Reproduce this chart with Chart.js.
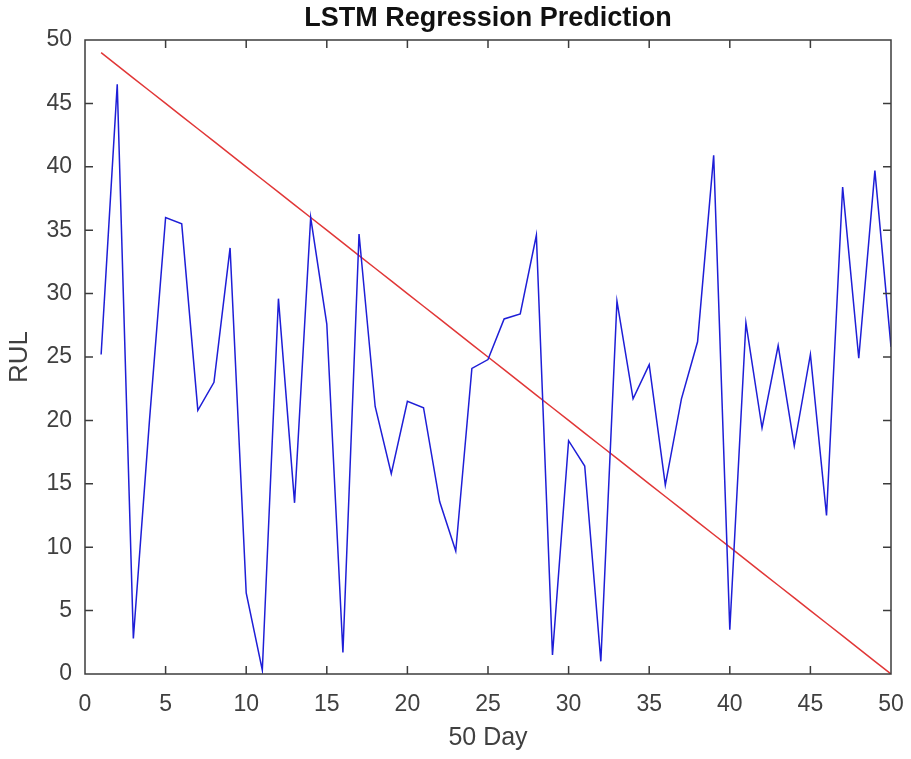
<!DOCTYPE html>
<html>
<head>
<meta charset="utf-8">
<title>LSTM Regression Prediction</title>
<script src="https://cdn.jsdelivr.net/npm/chart.js@4"></script>
<style>
  html, body { margin: 0; padding: 0; background: #ffffff; }
  #grafico { display: block; }
</style>
</head>
<body>
<canvas id="grafico" width="911" height="759"></canvas>
<script>
// Dias (eixo x) e valores
const dias = [
  1, 2, 3, 4, 5, 6, 7, 8, 9, 10,
  11, 12, 13, 14, 15, 16, 17, 18, 19, 20,
  21, 22, 23, 24, 25, 26, 27, 28, 29, 30,
  31, 32, 33, 34, 35, 36, 37, 38, 39, 40,
  41, 42, 43, 44, 45, 46, 47, 48, 49, 50,
];

// Previsão da LSTM (linha azul)
const previsao = [
  25.2, 46.5, 2.8, 20.0, 36.0, 35.5, 20.8, 23.0, 33.6, 6.4,
  0.3, 29.6, 13.5, 36.0, 27.6, 1.7, 34.7, 21.1, 15.8, 21.5,
  21.0, 13.6, 9.7, 24.1, 24.8, 28.0, 28.4, 34.6, 1.5, 18.4,
  16.4, 1.0, 29.4, 21.7, 24.4, 14.9, 21.7, 26.2, 40.9, 3.5,
  27.7, 19.4, 25.9, 18.0, 25.2, 12.5, 38.4, 24.9, 39.7, 25.8,
];

// RUL real (linha vermelha)
const rulReal = [
  49, 48, 47, 46, 45, 44, 43, 42, 41, 40,
  39, 38, 37, 36, 35, 34, 33, 32, 31, 30,
  29, 28, 27, 26, 25, 24, 23, 22, 21, 20,
  19, 18, 17, 16, 15, 14, 13, 12, 11, 10,
  9, 8, 7, 6, 5, 4, 3, 2, 1, 0,
];

const TICKS_X = [0, 5, 10, 15, 20, 25, 30, 35, 40, 45, 50];
const TICKS_Y = [0, 5, 10, 15, 20, 25, 30, 35, 40, 45, 50];

const TITULO    = "LSTM Regression Prediction";
const COR_EIXO  = "#3c3c3c";
const COR_TEXTO = "#404040";
const FONTE     = "'Liberation Sans', Arial, Helvetica, sans-serif";

// Caixa do gráfico com marcas para dentro (estilo MATLAB) e título centrado na área
const pluginCaixa = {
  id: "caixa",
  afterDatasetsDraw(chart) {
    const { ctx, chartArea: { left, right, top, bottom }, scales: { x, y } } = chart;
    const tam = 8;
    ctx.save();
    ctx.strokeStyle = COR_EIXO;
    ctx.lineWidth   = 1.5;
    ctx.beginPath();
    x.ticks.forEach(t => {
      if (t.value === x.min || t.value === x.max) return;
      const px = x.getPixelForValue(t.value);
      ctx.moveTo(px, bottom); ctx.lineTo(px, bottom - tam);
      ctx.moveTo(px, top);    ctx.lineTo(px, top + tam);
    });
    y.ticks.forEach(t => {
      if (t.value === y.min || t.value === y.max) return;
      const py = y.getPixelForValue(t.value);
      ctx.moveTo(left, py);  ctx.lineTo(left + tam, py);
      ctx.moveTo(right, py); ctx.lineTo(right - tam, py);
    });
    ctx.stroke();
    ctx.strokeRect(left, top, right - left, bottom - top);

    // Título
    ctx.fillStyle    = "#111111";
    ctx.font         = "bold 27px " + FONTE;
    ctx.textAlign    = "center";
    ctx.textBaseline = "middle";
    ctx.fillText(TITULO, (left + right) / 2, 19);
    ctx.restore();
  },
};

new Chart(document.getElementById("grafico"), {
  type: "line",
  data: {
    datasets: [
      {
        label:       "Previsão",
        data:        dias.map((d, i) => ({ x: d, y: previsao[i] })),
        borderColor: "rgb(30, 30, 215)",
        borderWidth: 1.5,
        pointRadius: 0,
        tension:     0,
      },
      {
        label:       "RUL",
        data:        dias.map((d, i) => ({ x: d, y: rulReal[i] })),
        borderColor: "rgb(225, 55, 55)",
        borderWidth: 1.5,
        pointRadius: 0,
        tension:     0,
      },
    ],
  },
  options: {
    responsive: false,
    animation:  false,
    layout: { padding: { left: 0, right: 20, top: 40, bottom: 0 } },
    plugins: {
      legend:  { display: false },
      tooltip: { enabled: false },
      title:   { display: false },
    },
    scales: {
      x: {
        type: "linear",
        min:  0,
        max:  50,
        afterFit: s => { s.height = 85; s.paddingLeft = 0; s.paddingRight = 0; },
        afterBuildTicks: s => { s.ticks = TICKS_X.map(v => ({ value: v })); },
        ticks: {
          color:       COR_TEXTO,
          font:        { family: FONTE, size: 23 },
          padding:     17,
          maxRotation: 0,
        },
        grid:   { display: false, drawTicks: false },
        border: { display: false },
        title: {
          display: true,
          text:    "50 Day",
          color:   COR_TEXTO,
          font:    { family: FONTE, size: 25, lineHeight: 1.2 },
          padding: { top: 6, bottom: 6 },
        },
      },
      y: {
        type: "linear",
        min:  0,
        max:  50,
        afterFit: s => { s.width = 85; s.paddingTop = 0; s.paddingBottom = 0; },
        afterBuildTicks: s => { s.ticks = TICKS_Y.map(v => ({ value: v })); },
        ticks: {
          color:   COR_TEXTO,
          font:    { family: FONTE, size: 23 },
          padding: 13,
        },
        grid:   { display: false, drawTicks: false },
        border: { display: false },
        title: {
          display: true,
          text:    "RUL",
          color:   COR_TEXTO,
          font:    { family: FONTE, size: 26, lineHeight: 1.2 },
          padding: { top: 4, bottom: 4 },
        },
      },
    },
  },
  plugins: [pluginCaixa],
});
</script>
</body>
</html>
